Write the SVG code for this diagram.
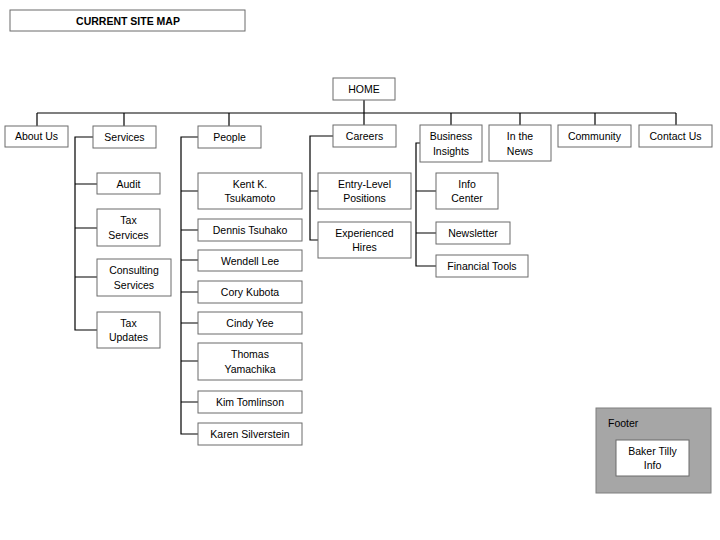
<svg xmlns="http://www.w3.org/2000/svg" width="720" height="540" viewBox="0 0 720 540">
<style>
.b{fill:#fff;stroke:#6b6b6b;stroke-width:1}
.t{font-family:"Liberation Sans",Arial,sans-serif;font-size:10.5px;fill:#000;text-anchor:middle}
.c{fill:none;stroke:#000;stroke-width:1.2}
</style>
<rect width="720" height="540" fill="#fff"/>
<g id="title"><rect class="b" x="10" y="10" width="235" height="21"/><text class="t" x="128" y="24.5" font-weight="bold">CURRENT SITE MAP</text></g>
<g id="connectors">
<path class="c" d="M364,100V113M37,113H676M37,113V126M124,113V126M229,113V126M364,113V125M451,113V125M520,113V125M595,113V125M676,113V125"/>
<path class="c" d="M93,137H75V330H97M75,184H97M75,228H97M75,277H97"/>
<path class="c" d="M198,137H181V434H198M181,191H198M181,230H198M181,260H198M181,292H198M181,323H198M181,361H198M181,402H198"/>
<path class="c" d="M333,136H310V240H318M310,191H318"/>
<path class="c" d="M420,143H416V266H436M416,191H436M416,233H436"/>
</g>
<g id="home"><rect class="b" x="333" y="78" width="62" height="22"/><text class="t" x="364" y="93">HOME</text></g>
<g id="about"><rect class="b" x="5" y="126" width="63" height="21"/><text class="t" x="36.5" y="140">About Us</text></g>
<g id="services"><rect class="b" x="93" y="126" width="63" height="22"/><text class="t" x="124.5" y="141">Services</text></g>
<g id="people"><rect class="b" x="198" y="126" width="63" height="22"/><text class="t" x="229.5" y="141">People</text></g>
<g id="careers"><rect class="b" x="333" y="125" width="63" height="22"/><text class="t" x="364.5" y="140">Careers</text></g>
<g id="business"><rect class="b" x="420" y="125" width="62" height="37"/><text class="t" x="451" y="140">Business</text><text class="t" x="451" y="155">Insights</text></g>
<g id="news"><rect class="b" x="489" y="125" width="62" height="36"/><text class="t" x="520" y="140">In the</text><text class="t" x="520" y="155">News</text></g>
<g id="community"><rect class="b" x="558" y="125" width="73" height="22"/><text class="t" x="594.5" y="140">Community</text></g>
<g id="contact"><rect class="b" x="639" y="125" width="73" height="22"/><text class="t" x="675.5" y="140">Contact Us</text></g>
<g id="audit"><rect class="b" x="97" y="173" width="63" height="21"/><text class="t" x="128.5" y="187.5">Audit</text></g>
<g id="taxservices"><rect class="b" x="97" y="209" width="63" height="37"/><text class="t" x="128.5" y="224">Tax</text><text class="t" x="128.5" y="239">Services</text></g>
<g id="consulting"><rect class="b" x="97" y="259" width="74" height="37"/><text class="t" x="134" y="274">Consulting</text><text class="t" x="134" y="289">Services</text></g>
<g id="taxupdates"><rect class="b" x="97" y="312" width="63" height="36"/><text class="t" x="128.5" y="327">Tax</text><text class="t" x="128.5" y="341">Updates</text></g>
<g id="kent"><rect class="b" x="198" y="173" width="104" height="36"/><text class="t" x="250" y="188">Kent K.</text><text class="t" x="250" y="202">Tsukamoto</text></g>
<g id="dennis"><rect class="b" x="198" y="219" width="104" height="22"/><text class="t" x="250" y="234">Dennis Tsuhako</text></g>
<g id="wendell"><rect class="b" x="198" y="250" width="104" height="21"/><text class="t" x="250" y="264.5">Wendell Lee</text></g>
<g id="cory"><rect class="b" x="198" y="281" width="104" height="22"/><text class="t" x="250" y="296">Cory Kubota</text></g>
<g id="cindy"><rect class="b" x="198" y="312" width="104" height="22"/><text class="t" x="250" y="327">Cindy Yee</text></g>
<g id="thomas"><rect class="b" x="198" y="343" width="104" height="37"/><text class="t" x="250" y="358">Thomas</text><text class="t" x="250" y="373">Yamachika</text></g>
<g id="kim"><rect class="b" x="198" y="391" width="104" height="22"/><text class="t" x="250" y="406">Kim Tomlinson</text></g>
<g id="karen"><rect class="b" x="198" y="423" width="104" height="22"/><text class="t" x="250" y="438">Karen Silverstein</text></g>
<g id="entry"><rect class="b" x="318" y="173" width="93" height="36"/><text class="t" x="364.5" y="188">Entry-Level</text><text class="t" x="364.5" y="202">Positions</text></g>
<g id="experienced"><rect class="b" x="318" y="222" width="93" height="36"/><text class="t" x="364.5" y="237">Experienced</text><text class="t" x="364.5" y="251">Hires</text></g>
<g id="info"><rect class="b" x="436" y="173" width="62" height="36"/><text class="t" x="467" y="188">Info</text><text class="t" x="467" y="202">Center</text></g>
<g id="newsletter"><rect class="b" x="436" y="222" width="74" height="22"/><text class="t" x="473" y="237">Newsletter</text></g>
<g id="financial"><rect class="b" x="436" y="255" width="92" height="22"/><text class="t" x="482" y="270">Financial Tools</text></g>
<g id="footer"><rect x="596" y="408" width="115" height="85" fill="#a6a6a6" stroke="#7f7f7f"/><text class="t" x="608" y="427" text-anchor="start" style="text-anchor:start">Footer</text></g>
<g id="bakertilly"><rect class="b" x="616" y="440" width="73" height="36"/><text class="t" x="652.5" y="455">Baker Tilly</text><text class="t" x="652.5" y="469">Info</text></g>
</svg>
